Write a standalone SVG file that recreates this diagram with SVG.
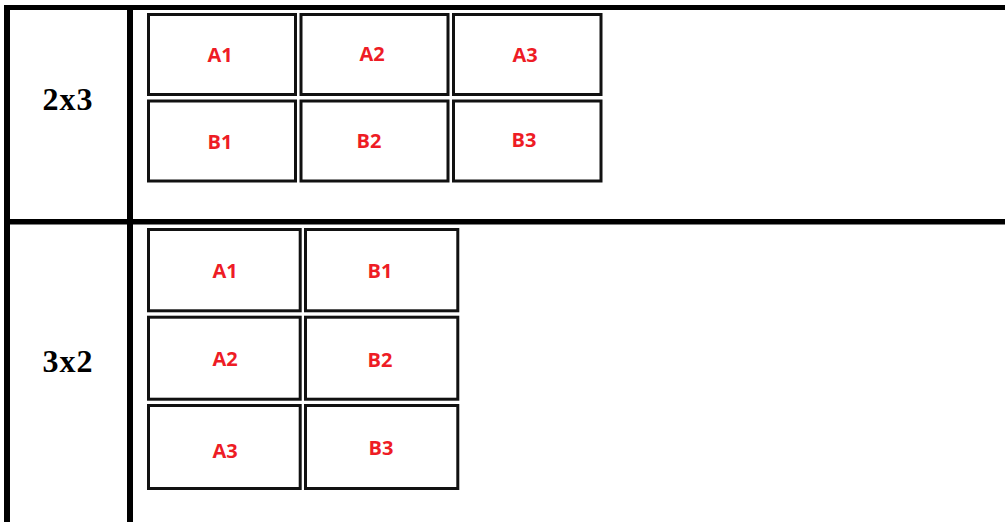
<svg xmlns="http://www.w3.org/2000/svg" width="1005" height="522" viewBox="0 0 1005 522">
<style>
.bg{fill:#ffffff}
.rule{stroke:#000000;fill:none}
.cell{fill:#ffffff;stroke:#111111;stroke-width:3}
.lab{font-family:"Open Sans","Noto Sans","Liberation Sans",sans-serif;font-weight:700;font-size:20px;fill:#ee1c25;text-anchor:middle}
.head{font-family:"Liberation Serif","DejaVu Serif",serif;font-weight:700;font-size:32px;fill:#000000;text-anchor:middle;letter-spacing:1px}
</style>
<rect class="bg" x="0" y="0" width="1005" height="522"/>
<g id="frame">
  <line class="rule" x1="4" y1="7.5" x2="1005" y2="7.5" stroke-width="5"/>
  <line class="rule" x1="4" y1="221.8" x2="1005" y2="221.8" stroke-width="5.5"/>
  <line class="rule" x1="7" y1="5" x2="7" y2="522" stroke-width="6"/>
  <line class="rule" x1="130" y1="5" x2="130" y2="522" stroke-width="6"/>
</g>
<g id="head-2x3"><text class="head" x="68" y="110">2x3</text></g>
<g id="head-3x2"><text class="head" x="68" y="371.5">3x2</text></g>
<g id="t-A1"><rect class="cell" x="148.5" y="14.5" width="147" height="80"/><text class="lab" x="220" y="61.7">A1</text></g>
<g id="t-A2"><rect class="cell" x="301" y="14.5" width="147" height="80"/><text class="lab" x="372" y="60.7">A2</text></g>
<g id="t-A3"><rect class="cell" x="453.5" y="14.5" width="147.5" height="80"/><text class="lab" x="525" y="61.7">A3</text></g>
<g id="t-B1"><rect class="cell" x="148.5" y="101" width="147" height="80"/><text class="lab" x="220" y="149">B1</text></g>
<g id="t-B2"><rect class="cell" x="301" y="101" width="147" height="80"/><text class="lab" x="369" y="148.3">B2</text></g>
<g id="t-B3"><rect class="cell" x="453.5" y="101" width="147.5" height="80"/><text class="lab" x="524" y="146.7">B3</text></g>
<g id="b-A1"><rect class="cell" x="148.5" y="229.5" width="151.7" height="81.3"/><text class="lab" x="225" y="277.7">A1</text></g>
<g id="b-B1"><rect class="cell" x="305.5" y="229.5" width="152.3" height="81.3"/><text class="lab" x="380" y="277.7">B1</text></g>
<g id="b-A2"><rect class="cell" x="148.5" y="317.2" width="151.7" height="82"/><text class="lab" x="225" y="366.3">A2</text></g>
<g id="b-B2"><rect class="cell" x="305.5" y="317.2" width="152.3" height="82"/><text class="lab" x="380" y="367.3">B2</text></g>
<g id="b-A3"><rect class="cell" x="148.5" y="405.5" width="151.7" height="83"/><text class="lab" x="225" y="458.3">A3</text></g>
<g id="b-B3"><rect class="cell" x="305.5" y="405.5" width="152.3" height="83"/><text class="lab" x="381" y="455">B3</text></g>
</svg>
